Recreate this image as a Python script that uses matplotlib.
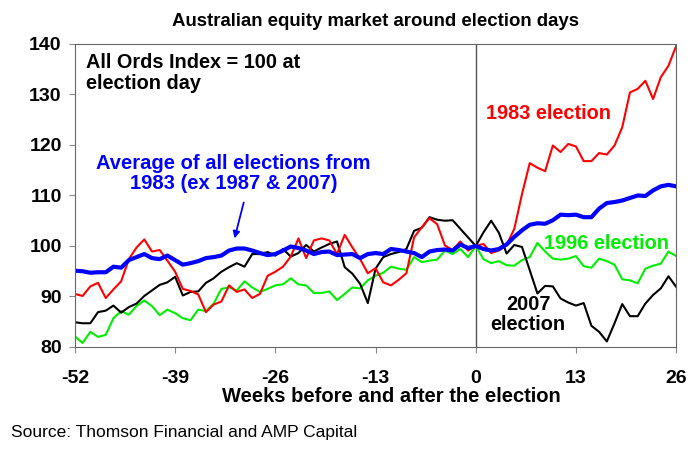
import numpy as np
from matplotlib import pyplot as plt

plt.rcParams['font.family'] = ['Liberation Sans', 'DejaVu Sans']

weeks = np.arange(-52, 27)

e1983 = [90.5, 90.1, 92.0, 92.7, 89.7, 91.4, 93.0, 97.4, 99.7, 101.3,
         98.9, 99.2, 97.1, 94.9, 91.5, 91.1, 90.4, 86.9, 88.4, 89.0,
         92.2, 90.9, 91.4, 89.7, 90.5, 94.1, 94.9, 95.9, 97.9, 101.5,
         97.6, 101.1, 101.5, 101.1, 98.4, 102.2, 99.7, 97.4, 94.6, 95.6,
         92.8, 92.2, 93.3, 94.6, 101.7, 103.7, 105.5, 104.3, 100.1, 99.2,
         100.9, 99.1, 100.0, 100.4, 98.6, 99.1, 100.2, 103.4, 110.3, 116.4,
         115.5, 114.8, 119.9, 118.6, 120.2, 119.7, 116.8, 116.8, 118.4, 118.1,
         119.9, 123.5, 130.4, 131.1, 132.7, 129.1, 133.4, 135.7, 139.6]

average = [95.1, 95.0, 94.7, 94.8, 94.8, 95.9, 95.7, 97.2, 97.8, 98.4,
           97.6, 97.4, 98.1, 97.2, 96.3, 96.6, 97.0, 97.6, 97.8, 98.1,
           99.1, 99.5, 99.5, 99.1, 98.6, 98.2, 98.4, 99.1, 99.9, 99.6,
           99.1, 98.4, 98.8, 98.9, 98.2, 98.3, 98.4, 97.6, 98.4, 98.6,
           98.4, 99.4, 99.2, 98.9, 98.6, 97.8, 98.9, 99.2, 99.3, 99.1,
           100.3, 99.6, 100.0, 99.4, 99.1, 99.4, 100.3, 101.8, 103.1, 104.2,
           104.5, 104.4, 105.1, 106.2, 106.1, 106.2, 105.7, 105.7, 107.4, 108.5,
           108.7, 109.0, 109.5, 110.0, 109.9, 111.0, 111.8, 112.1, 111.8]

e2007 = [84.9, 84.7, 84.7, 86.9, 87.2, 88.2, 86.8, 87.9, 88.6, 90.1,
         91.2, 92.3, 92.8, 93.9, 90.2, 90.9, 91.0, 92.7, 93.6, 94.9,
         95.8, 96.6, 95.9, 98.4, 98.4, 98.8, 98.1, 99.4, 97.9, 98.6,
         100.2, 98.9, 99.7, 100.4, 100.9, 95.8, 94.5, 92.5, 88.7, 95.5,
         97.8, 98.4, 98.8, 99.4, 103.0, 103.6, 105.7, 105.2, 105.0, 105.1,
         103.4, 101.7, 100.0, 102.7, 105.0, 102.6, 98.5, 100.2, 99.8, 95.2,
         90.6, 92.1, 92.0, 89.6, 88.8, 88.2, 88.7, 84.2, 83.0, 81.1,
         84.7, 88.5, 86.1, 86.1, 88.6, 90.3, 91.6, 94.0, 91.9]

e1996 = [82.1, 80.8, 83.0, 82.0, 82.4, 85.7, 87.1, 86.4, 88.1, 89.2,
         88.1, 86.3, 87.4, 86.7, 85.7, 85.3, 87.4, 87.1, 88.6, 91.5,
         91.8, 91.2, 93.0, 91.8, 90.9, 91.5, 92.2, 92.4, 93.6, 92.4,
         92.2, 90.7, 90.7, 91.0, 89.3, 90.5, 91.8, 91.6, 93.2, 94.1,
         94.7, 95.9, 95.5, 95.3, 97.8, 96.8, 97.1, 97.3, 99.1, 98.4,
         99.4, 97.8, 100.0, 97.4, 96.6, 97.0, 96.2, 96.1, 97.2, 97.8,
         100.6, 98.9, 97.5, 97.3, 97.5, 98.0, 96.0, 95.7, 97.5, 97.0,
         96.3, 93.4, 93.2, 92.6, 95.5, 96.1, 96.5, 98.9, 98.0]

xticks = [-52, -39, -26, -13, 0, 13, 26]
yticks = [80, 90, 100, 110, 120, 130, 140]

fig = plt.figure(figsize=(7, 4.53), dpi=100)
ax = fig.add_axes([0.107, 0.234, 0.859, 0.669])

ax.axvline(0, color='#555555', lw=1)
ax.plot(weeks, e1996, color='#00ee00', lw=1.5)
ax.plot(weeks, e2007, color='black', lw=1.5)
ax.plot(weeks, e1983, color='#ff0000', lw=1.5)
ax.plot(weeks, average, color='#0000ff', lw=3)

ax.set_xlim(-52, 26)
ax.set_ylim(80, 140)
ax.set_xticks(xticks)
ax.set_xticklabels([str(x) for x in xticks], fontsize=14, fontweight='bold')
ax.set_yticks(yticks)
ax.set_yticklabels([str(y) for y in yticks], fontsize=14, fontweight='bold')
ax.tick_params(direction='out', length=4.5, color='#888888')
ax.tick_params(axis='x', pad=12)
ax.tick_params(axis='y', pad=5)
for sp in ax.spines.values():
    sp.set_color('#666666')

fig.text(0.559, 0.124, "Weeks before and after the election", ha='center', va='center',
         fontsize=14.5, fontweight='bold')
fig.text(0.536, 0.953, "Australian equity market around election days", ha='center', va='center',
         fontsize=13.4, fontweight='bold')
fig.text(0.016, 0.046, "Source: Thomson Financial and AMP Capital", ha='left', va='center', fontsize=12.5)

ax.text(-50.6, 138.3, "All Ords Index = 100 at\nelection day", ha='left', va='top',
        fontsize=14.3, fontweight='bold', linespacing=1.15)
ax.text(-31.4, 118.3, "Average of all elections from\n1983 (ex 1987 & 2007)", ha='center', va='top',
        fontsize=14.5, fontweight='bold', color='#0000ff', linespacing=1.1)
ax.annotate("", xy=(-31.3, 101.5), xytext=(-30.1, 108.6),
            arrowprops=dict(arrowstyle='-|>', color='#0000ff', lw=1.3, mutation_scale=10,
                            shrinkA=0, shrinkB=0))
ax.text(1.3, 126.2, "1983 election", ha='left', va='center', fontsize=14.4, fontweight='bold', color='#ff0000')
ax.text(8.9, 100.5, "1996 election", ha='left', va='center', fontsize=14.4, fontweight='bold', color='#00ee00')
ax.text(6.8, 90.3, "2007\nelection", ha='center', va='top', fontsize=14.4, fontweight='bold', linespacing=1.1)

fig.savefig("out.png", dpi=100)
